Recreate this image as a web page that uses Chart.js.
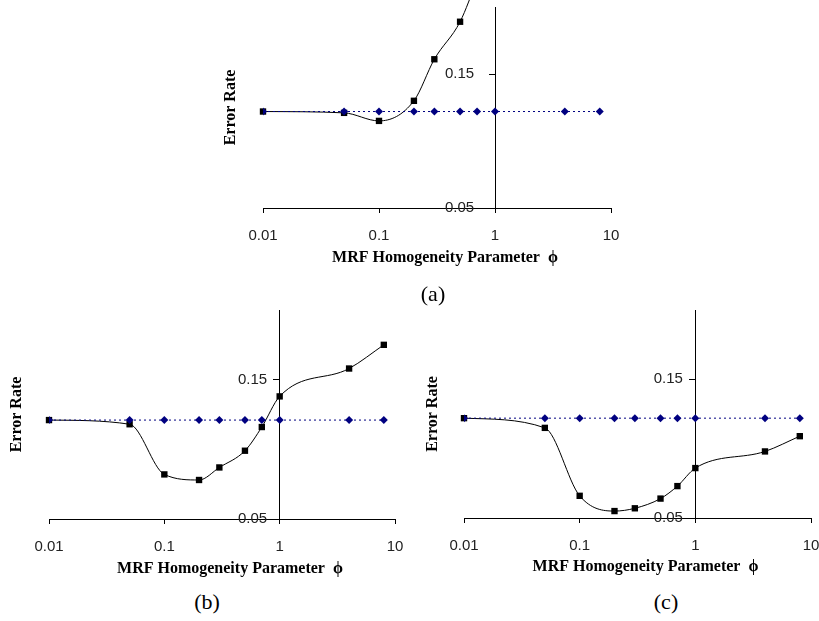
<!DOCTYPE html>
<html><head><meta charset="utf-8">
<script src="https://cdn.jsdelivr.net/npm/chart.js@4"></script>
<style>
html,body{margin:0;padding:0;background:#fff;width:819px;height:621px;overflow:hidden;position:relative}
canvas{position:absolute}
.cap{position:absolute;font-family:"Liberation Serif","Times New Roman",serif;font-size:22px;color:#000;transform:translate(-50%,-50%);line-height:1;white-space:nowrap}
</style></head><body>
<canvas id="ca" width="430" height="275" style="left:200px;top:0px"></canvas>
<canvas id="cb" width="410" height="290" style="left:0px;top:290px"></canvas>
<canvas id="cc" width="419" height="290" style="left:400px;top:290px"></canvas>
<div class="cap" style="left:433px;top:294px">(a)</div>
<div class="cap" style="left:207px;top:602px">(b)</div>
<div class="cap" style="left:666px;top:602px">(c)</div>
<script>
// ---- data ----
const xValues = [0.01, 0.05, 0.1, 0.2, 0.3, 0.5, 0.7, 1, 4, 8];
const xTickValues = [0.01, 0.1, 1, 10];
const xTickLabels = ['0.01', '0.1', '1', '10'];
const yTickValues = [0.05, 0.15];
const yTickLabels = ['0.05', '0.15'];
const xTitle = 'MRF Homogeneity Parameter  \u03D5';
const yTitle = 'Error Rate';

// panel (a)
const baselineA = [0.122, 0.122, 0.122, 0.122, 0.122, 0.122, 0.122, 0.122, 0.122, 0.122];
const mrfA = [0.122, 0.121, 0.115, 0.130, 0.161, 0.189, 0.220];
// panel (b)
const baselineB = [0.121, 0.121, 0.121, 0.121, 0.121, 0.121, 0.121, 0.121, 0.121, 0.121];
const mrfB = [0.121, 0.118, 0.082, 0.078, 0.087, 0.099, 0.116, 0.138, 0.158, 0.175];
// panel (c)
const baselineC = [0.122, 0.122, 0.122, 0.122, 0.122, 0.122, 0.122, 0.122, 0.122, 0.122];
const mrfC = [0.122, 0.115, 0.066, 0.055, 0.057, 0.064, 0.073, 0.086, 0.098, 0.109];

const tickFont = {family: '"Liberation Sans", Arial, sans-serif', size: 15};
const titleFamily = '"Liberation Serif", "Times New Roman", serif';

function build(id, mrf, base, L) {
  const pts = arr => arr.map((v, i) => ({x: xValues[i], y: v}));
  return new Chart(document.getElementById(id), {
    type: 'line',
    data: {datasets: [
      {label: 'Without MRF', data: pts(base), yAxisID: 'y', xAxisID: 'x',
       borderColor: '#000080', borderWidth: 1, borderDash: [2, 3], tension: 0,
       pointStyle: 'rectRot', pointRadius: 4, pointBackgroundColor: '#000080', pointBorderColor: '#000080', pointBorderWidth: 0},
      {label: 'With MRF', data: pts(mrf), yAxisID: 'y', xAxisID: 'x',
       borderColor: '#000', borderWidth: 1, cubicInterpolationMode: 'monotone',
       pointStyle: 'rect', pointRadius: 4.5, pointBackgroundColor: '#000', pointBorderColor: '#000', pointBorderWidth: 0,
       clip: {left: 6, right: 6, top: 20, bottom: 6}}
    ]},
    options: {
      responsive: false, animation: false, devicePixelRatio: 1,
      layout: {padding: {left: 0, top: L.padTop, right: L.padRight, bottom: 0}},
      plugins: {legend: {display: false}, tooltip: {enabled: false}},
      scales: {
        x: {
          type: 'logarithmic', position: 'bottom', min: 0.01, max: 10,
          afterBuildTicks: s => { s.ticks = xTickValues.map(v => ({value: v})); },
          afterFit: s => { s.height = L.xH; s.paddingLeft = 0; s.paddingRight = 0; },
          ticks: {font: tickFont, color: '#222', padding: L.xLabelPad, autoSkip: false, maxRotation: 0,
                  callback: (v, i) => xTickLabels[i]},
          grid: {display: true, drawOnChartArea: false, drawTicks: true, tickLength: 5, color: '#000'},
          border: {display: true, color: '#000', width: 1},
          title: {display: true, text: '    ' + xTitle, font: {family: titleFamily, size: 16, weight: 'bold'}, color: '#000',
                  padding: {top: 0, bottom: L.xTitlePad}}
        },
        y: {
          type: 'linear', position: {x: 1}, min: 0.05, max: 0.2,
          afterBuildTicks: s => { s.ticks = yTickValues.map(v => ({value: v})); },
          afterFit: s => { s.paddingTop = 0; s.paddingBottom = 0; },
          ticks: {font: tickFont, color: '#222', padding: 4,
                  callback: (v, i) => yTickLabels[i] + L.yGap},
          grid: {display: true, drawOnChartArea: false, drawTicks: true, tickLength: 6, color: '#000'},
          border: {display: true, color: '#000', width: 1}
        },
        yt: {
          type: 'linear', axis: 'y', position: 'left',
          afterFit: s => { s.width = L.leftW; s.paddingTop = 0; s.paddingBottom = 0; },
          ticks: {display: false}, grid: {display: false}, border: {display: false},
          title: {display: true, text: yTitle, font: {family: titleFamily, size: 16, weight: 'bold'}, color: '#000',
                  padding: {top: L.titlePad, bottom: 0}}
        }
      }
    }
  });
}

build('ca', mrfA, baselineA, {leftW: 63, titlePad: 21, padTop: 7, padRight: 19, xH: 67, xTitlePad: 8, xLabelPad: 14, yGap: '     '});
build('cb', mrfB, baselineB, {leftW: 49, titlePad: 7, padTop: 20, padRight: 15, xH: 61, xTitlePad: 2, xLabelPad: 14, yGap: '   '});
build('cc', mrfC, baselineC, {leftW: 64, titlePad: 23, padTop: 20, padRight: 8, xH: 62, xTitlePad: 4, xLabelPad: 14, yGap: '   '});
</script>
</body></html>
